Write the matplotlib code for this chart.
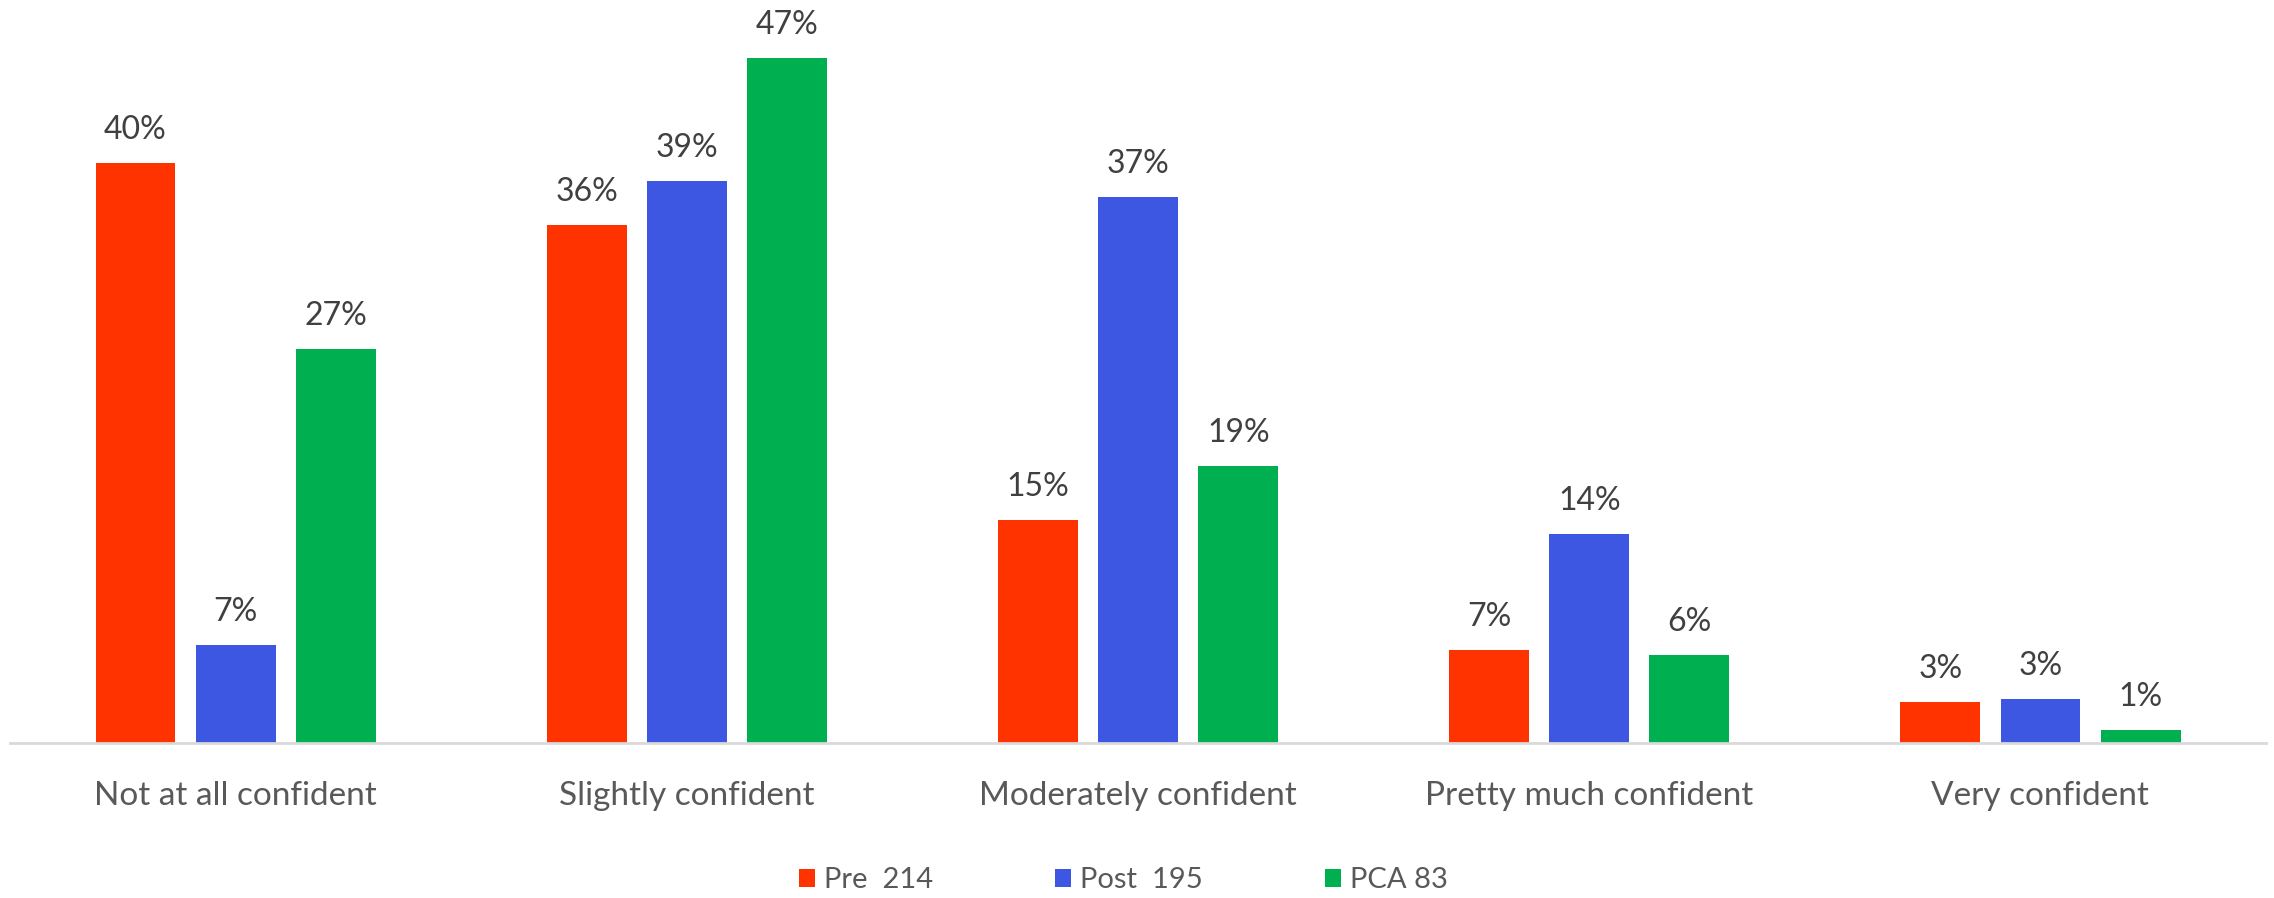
import matplotlib
matplotlib.use('Agg')
import matplotlib.pyplot as plt
import numpy as np

plt.rcParams['font.family'] = ['Lato', 'DejaVu Sans']

categories = ['Not at all confident', 'Slightly confident', 'Moderately confident',
              'Pretty much confident', 'Very confident']
series = ['Pre  214', 'Post  195', 'PCA 83']
pre = [39.7, 35.5, 15.3, 6.4, 2.8]
post = [6.7, 38.5, 37.4, 14.3, 3.0]
pca = [27.0, 46.9, 19.0, 6.0, 0.9]
pre_lbl = ['40%', '36%', '15%', '7%', '3%']
post_lbl = ['7%', '39%', '37%', '14%', '3%']
pca_lbl = ['27%', '47%', '19%', '6%', '1%']
colors = ['#FF3300', '#3D57E3', '#00B050']

fig = plt.figure(figsize=(22.74, 8.98), dpi=100)
ax = fig.add_axes([0.0044, 0.1726, 0.9921, 0.8274])

x = np.arange(len(categories))
w = 0.177
step = 0.222
bars = []
for i, (vals, lbls) in enumerate(zip([pre, post, pca], [pre_lbl, post_lbl, pca_lbl])):
    b = ax.bar(x + (i - 1) * step, vals, w, color=colors[i], label=series[i], zorder=2)
    bars.append(b)
    for rect, l in zip(b, lbls):
        ax.annotate(l, (rect.get_x() + rect.get_width() / 2, rect.get_height()),
                    xytext=(0, 18), textcoords='offset pixels', ha='center', va='bottom',
                    fontsize=23, color='#404040')

ax.set_xlim(-0.5, 4.5)
ax.set_ylim(0, 50.9)
ax.set_yticks([])
ax.set_xticks(x)
ax.set_xticklabels(categories, fontsize=24, color='#595959')
ax.tick_params(axis='x', length=0, pad=27)
for s in ['top', 'right', 'left']:
    ax.spines[s].set_visible(False)
ax.spines['bottom'].set_color('#D9D9D9')
ax.spines['bottom'].set_linewidth(2)

fig.legend(handles=bars, labels=series, loc='center', bbox_to_anchor=(0.494, 0.02),
           ncol=3, frameon=False, fontsize=21, labelcolor='#595959',
           handlelength=0.55, handleheight=0.55, handletextpad=0.3, columnspacing=4.2)

fig.savefig('out.png', dpi=100)
